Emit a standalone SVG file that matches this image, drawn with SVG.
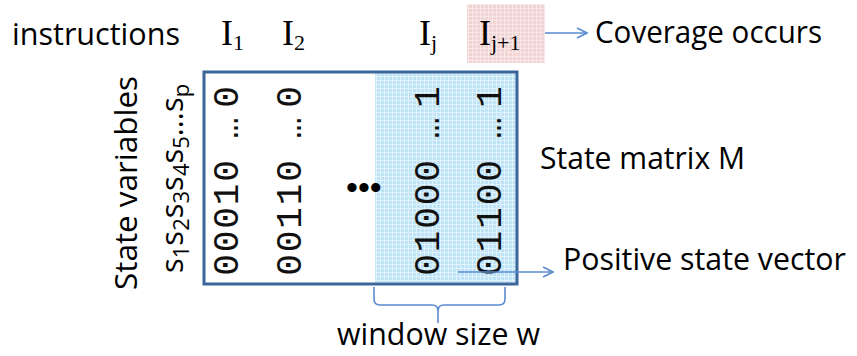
<svg xmlns="http://www.w3.org/2000/svg" width="857" height="356" viewBox="0 0 857 356">
  <defs>
    <pattern id="blueGrid" width="4" height="4" patternUnits="userSpaceOnUse">
      <rect width="4" height="4" fill="#bee3f6"/>
      <path d="M0,0.5 H4 M0.5,0 V4" stroke="#e0f2fb" stroke-width="1"/>
    </pattern>
    <pattern id="pinkGrid" width="4" height="4" patternUnits="userSpaceOnUse">
      <rect width="4" height="4" fill="#f0d4d4"/>
      <path d="M0,0.5 H4 M0.5,0 V4" stroke="#f8e8e8" stroke-width="1"/>
    </pattern>
    <marker id="arrow" viewBox="0 0 12 12" refX="11" refY="6" markerWidth="12" markerHeight="12" markerUnits="userSpaceOnUse" orient="auto">
      <path d="M1,1 L11,6 L1,11" fill="none" stroke="#5b8bd0" stroke-width="1.6"/>
    </marker>
  </defs>
  <style>
    .lbl { font-family: "Open Sans", "Liberation Sans", sans-serif; font-size: 31px; fill: #000; }
    .ser { font-family: "Liberation Serif", "Times New Roman", serif; font-size: 36px; fill: #000; }
    .sub { font-size: 22px; }
    .mono { font-family: "Liberation Mono", "Courier New", monospace; font-size: 36px; fill: #111; text-anchor: middle; }
    .conn { fill: none; stroke: #5b8bd0; stroke-width: 1.6; }
  </style>
  <rect width="857" height="356" fill="#fff"/>

  <g id="instructions-label">
    <text class="lbl" x="12" y="45" textLength="168" lengthAdjust="spacingAndGlyphs">instructions</text>
  </g>
  <g id="I1">
    <text class="ser" x="221" y="45">I<tspan class="sub" dy="5">1</tspan></text>
  </g>
  <g id="I2">
    <text class="ser" x="282" y="45">I<tspan class="sub" dy="5">2</tspan></text>
  </g>
  <g id="Ij">
    <text class="ser" x="419" y="45">I<tspan class="sub" dy="5">j</tspan></text>
  </g>
  <g id="Ij1">
    <rect x="467" y="4" width="78" height="59" fill="url(#pinkGrid)"/>
    <text class="ser" x="479" y="45">I<tspan class="sub" dy="5">j+1</tspan></text>
  </g>
  <g id="coverage-label">
    <text class="lbl" x="595" y="43" textLength="227" lengthAdjust="spacingAndGlyphs">Coverage occurs</text>
  </g>

  <g id="state-variables-label">
    <text class="lbl" transform="rotate(-90)" x="-290" y="137" textLength="214" lengthAdjust="spacingAndGlyphs">State variables</text>
    <text class="lbl" transform="rotate(-90)" x="-273" y="183">s<tspan class="sub" dy="6">1</tspan><tspan dy="-6">s</tspan><tspan class="sub" dy="6">2</tspan><tspan dy="-6">s</tspan><tspan class="sub" dy="6">3</tspan><tspan dy="-6">s</tspan><tspan class="sub" dy="6">4</tspan><tspan dy="-6">s</tspan><tspan class="sub" dy="6">5</tspan><tspan dy="-6">…s</tspan><tspan class="sub" dy="6">p</tspan></text>
  </g>

  <g id="state-matrix">
    <rect x="375" y="73.5" width="141" height="209" fill="url(#blueGrid)"/>
    <rect x="204" y="72" width="313" height="212" fill="none" stroke="#3b679a" stroke-width="3"/>
    <text class="mono" transform="rotate(-90)" y="238" x="-265 -241.5 -218 -194.5 -171 -128 -97">00010…0</text>
    <text class="mono" transform="rotate(-90)" y="301" x="-265 -241.5 -218 -194.5 -171 -128 -97">00110…0</text>
    <text class="mono" transform="rotate(-90)" y="439" x="-265 -241.5 -218 -194.5 -171 -128 -97">01000…1</text>
    <text class="mono" transform="rotate(-90)" y="501" x="-265 -241.5 -218 -194.5 -171 -128 -97">01100…1</text>
    <text x="346" y="199" style="font-family: 'Liberation Sans', sans-serif; font-size: 34px; fill: #000;">•••</text>
  </g>

  <g id="state-matrix-label">
    <text class="lbl" x="540" y="169" textLength="205" lengthAdjust="spacingAndGlyphs">State matrix M</text>
  </g>
  <g id="positive-label">
    <text class="lbl" x="563" y="270" textLength="283" lengthAdjust="spacingAndGlyphs">Positive state vector</text>
  </g>
  <g id="window-brace">
    <path class="conn" d="M374,287 L374,299 Q374,305 380,305 L432,305 Q438,305 438,311 L438,323 M438,311 Q438,305 444,305 L499,305 Q505,305 505,299 L505,287"/>
    <text class="lbl" x="337" y="345" textLength="203" lengthAdjust="spacingAndGlyphs">window size w</text>
  </g>

  <g id="connectors">
    <line class="conn" x1="545" y1="33" x2="587" y2="33" marker-end="url(#arrow)"/>
    <line class="conn" x1="458" y1="272" x2="553" y2="272" marker-end="url(#arrow)"/>
  </g>
</svg>
